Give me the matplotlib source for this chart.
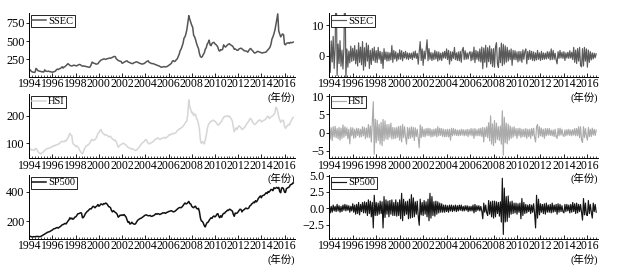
import numpy as np
import matplotlib.pyplot as plt
from matplotlib.ticker import MultipleLocator, FixedLocator

plt.rcParams["font.family"] = ["Liberation Serif", "Noto Sans CJK SC"]

# ------------------------------
# Index levels, one reading per month from 1994.0
ssec_price = [
    118, 105, 88, 80, 76, 72, 78, 128, 112, 96, 92, 88,
    86, 80, 82, 78, 108, 90, 88, 86, 90, 84, 82, 78,
    76, 80, 84, 90, 108, 118, 112, 122, 126, 136, 150, 132,
    148, 152, 165, 178, 192, 182, 168, 164, 160, 166, 172, 168,
    166, 162, 170, 178, 182, 176, 166, 158, 162, 158, 156, 152,
    150, 146, 142, 150, 180, 214, 204, 198, 194, 186, 188, 192,
    212, 226, 240, 246, 252, 258, 256, 250, 258, 262, 264, 270,
    268, 272, 280, 286, 292, 288, 258, 248, 236, 230, 226, 222,
    198, 204, 212, 220, 226, 232, 218, 212, 206, 200, 196, 192,
    204, 208, 214, 218, 212, 206, 198, 194, 190, 186, 192, 196,
    208, 218, 226, 232, 210, 204, 198, 192, 194, 188, 182, 178,
    172, 166, 162, 156, 146, 144, 148, 152, 150, 148, 152, 156,
    168, 176, 186, 198, 226, 234, 222, 228, 246, 258, 290, 320,
    370, 390, 430, 470, 540, 560, 600, 660, 760, 850, 800, 760,
    720, 690, 580, 560, 520, 470, 430, 400, 330, 290, 280, 290,
    320, 340, 390, 410, 460, 480, 515, 450, 440, 470, 480, 485,
    465, 455, 440, 420, 375, 365, 385, 380, 390, 450, 430, 420,
    435, 450, 460, 465, 450, 445, 435, 420, 390, 395, 385, 375,
    378, 395, 400, 405, 395, 385, 372, 368, 366, 362, 350, 372,
    392, 400, 382, 370, 352, 338, 342, 350, 362, 358, 352, 348,
    342, 338, 344, 346, 348, 352, 370, 384, 400, 420, 460, 530,
    560, 600, 650, 720, 800, 875, 640, 600, 560, 580, 600, 590,
    460, 450, 470, 475, 480, 470, 485, 478, 482, 488,
]
hsi_price = [
    84, 80, 76, 78, 76, 74, 80, 82, 76, 70, 66, 64,
    62, 66, 68, 70, 76, 78, 80, 82, 82, 84, 84, 88,
    88, 92, 90, 94, 94, 96, 96, 100, 102, 106, 108, 106,
    106, 110, 108, 114, 120, 128, 136, 130, 128, 100, 96, 94,
    88, 92, 88, 84, 76, 70, 66, 62, 70, 80, 86, 92,
    92, 96, 98, 104, 112, 114, 110, 112, 114, 118, 126, 136,
    138, 146, 150, 142, 136, 134, 130, 132, 130, 128, 124, 124,
    126, 120, 116, 114, 110, 112, 104, 96, 86, 90, 94, 96,
    98, 100, 100, 96, 94, 90, 86, 84, 82, 82, 80, 80,
    78, 76, 74, 76, 80, 84, 88, 94, 98, 102, 104, 108,
    112, 114, 106, 100, 98, 100, 102, 104, 106, 110, 114, 116,
    118, 120, 116, 114, 116, 118, 120, 120, 122, 118, 122, 124,
    128, 132, 130, 134, 136, 134, 136, 138, 140, 146, 148, 152,
    152, 156, 158, 162, 166, 172, 178, 180, 210, 257, 232, 222,
    210, 212, 200, 206, 204, 190, 184, 170, 150, 110, 100, 106,
    104, 98, 112, 128, 150, 165, 172, 176, 180, 180, 184, 182,
    180, 176, 172, 166, 166, 172, 176, 180, 188, 194, 198, 196,
    198, 200, 196, 198, 192, 188, 180, 162, 142, 150, 156, 150,
    158, 164, 160, 156, 150, 152, 156, 158, 166, 170, 176, 180,
    188, 190, 184, 176, 172, 168, 170, 174, 178, 182, 184, 184,
    178, 180, 182, 184, 186, 190, 196, 198, 190, 192, 196, 198,
    200, 204, 210, 230, 226, 214, 196, 186, 176, 180, 184, 182,
    162, 154, 160, 164, 168, 166, 176, 182, 190, 194,
]
sp500_price = [
    98, 96, 94, 92, 93, 94, 93, 95, 96, 95, 94, 94,
    96, 100, 104, 108, 112, 116, 120, 124, 126, 128, 132, 136,
    140, 146, 148, 150, 154, 156, 152, 158, 162, 168, 174, 176,
    180, 184, 180, 190, 200, 208, 222, 214, 220, 212, 216, 226,
    228, 236, 248, 250, 252, 256, 254, 222, 224, 236, 250, 258,
    266, 270, 278, 284, 282, 292, 300, 296, 290, 298, 302, 312,
    300, 306, 316, 314, 310, 318, 316, 322, 318, 310, 298, 296,
    290, 272, 262, 270, 264, 258, 254, 244, 226, 232, 240, 238,
    242, 238, 244, 236, 228, 210, 192, 196, 180, 182, 192, 184,
    180, 178, 182, 194, 204, 210, 214, 218, 220, 226, 230, 236,
    240, 242, 238, 236, 236, 238, 232, 232, 236, 238, 244, 250,
    246, 250, 248, 244, 248, 250, 256, 254, 256, 252, 258, 260,
    264, 266, 268, 270, 266, 262, 264, 268, 274, 280, 286, 290,
    292, 290, 296, 304, 314, 322, 316, 318, 326, 333, 318, 316,
    300, 294, 290, 298, 300, 286, 282, 286, 262, 220, 200, 198,
    186, 168, 160, 178, 190, 192, 204, 214, 222, 218, 230, 234,
    228, 234, 246, 250, 232, 222, 236, 226, 244, 252, 252, 262,
    266, 274, 272, 280, 278, 272, 268, 246, 232, 254, 252, 254,
    262, 272, 280, 278, 262, 272, 276, 282, 288, 284, 284, 288,
    302, 306, 316, 320, 328, 324, 338, 330, 340, 354, 362, 370,
    358, 372, 374, 376, 384, 392, 386, 400, 396, 404, 414, 412,
    406, 426, 420, 424, 428, 422, 428, 400, 392, 424, 426, 418,
    396, 394, 420, 424, 428, 432, 446, 448, 452, 458,
]

# ------------------------------
# Returns, one reading per month from 1994.0
ssec_ret = [
    3.2, -5.5, 4.8, -2.1, 6.3, -4.2, 2.5, 30.0, -6.5, 3.8, -2.6, 4.9,
    -3.5, 1.8, -4.4, 2.9, 30.0, -7.5, 2.2, -3.8, 1.5, -2.4, 3.1, -1.9,
    2.4, -1.6, 3.3, -2.7, 1.9, -3.4, 4.2, -2.2, 2.8, -3.0, 4.6, -4.8,
    2.6, -3.5, 4.1, -1.8, 3.4, -4.2, 1.7, -2.9, 2.3, -1.6, 2.8, -2.2,
    1.6, -2.3, 2.7, -1.2, 1.4, -2.6, 1.1, -4.2, 2.3, -1.3, 1.2, -1.8,
    1.1, -1.7, 0.9, -1.4, 3.3, -2.2, 1.7, -1.1, 1.3, -1.8, 0.8, -1.2,
    1.9, -1.2, 1.6, -1.7, 1.1, -0.8, 1.4, -1.1, 0.9, -1.3, 0.8, -0.9,
    0.8, -1.3, 1.2, -0.7, 1.5, -0.9, 0.7, -2.8, 1.3, 4.6, -1.6, 2.2,
    -3.2, 1.5, -1.1, 1.8, 5.2, -1.7, 2.3, -1.2, 1.0, -1.6, 0.9, -1.3,
    1.7, -1.1, 1.3, -1.8, 1.2, -1.4, 0.8, -1.6, 1.1, -0.8, 1.4, -0.9,
    2.2, -1.3, 1.7, -2.8, 1.3, -1.7, 1.2, -0.9, 2.7, -1.3, 0.9, -1.6,
    1.2, -1.7, 1.4, -2.2, 1.8, 2.7, -1.3, 1.6, -1.2, 0.9, -1.1, 0.8,
    1.3, -1.7, 1.2, -1.4, 2.8, -2.3, 1.7, -1.2, 1.4, -1.8, 2.2, -2.1,
    2.8, -4.3, 2.5, -2.2, 3.4, -3.8, 2.6, -2.0, 3.2, -2.7, 2.2, -3.6,
    2.3, -3.8, 2.9, 4.2, -2.7, -3.9, 2.6, -2.3, 4.1, -3.3, 3.7, -2.8,
    3.2, -2.2, 2.7, -1.8, 1.8, -1.3, 2.2, -3.2, 1.7, -1.3, 1.6, -1.4,
    1.2, -2.1, 1.4, -1.7, 1.3, -2.2, 1.9, -1.2, 1.3, 2.2, -2.7, 1.4,
    -1.3, 1.7, -1.2, 1.4, -1.6, 1.2, -1.7, 0.9, -1.4, 1.7, -1.2, 0.9,
    -1.6, 1.4, -1.3, 0.9, -1.2, 0.8, -1.1, 1.3, -0.9, 1.2, -1.4, 2.2,
    -1.3, 1.7, -1.2, 0.8, -1.4, -2.7, 1.3, -0.9, 1.7, -0.8, 1.1, -0.9,
    1.3, -1.6, 0.9, -0.8, 1.1, -0.9, 1.6, -0.8, 1.1, -1.3, 2.7, -2.2,
    1.8, -2.6, 2.3, -1.8, 2.7, -3.2, -3.7, 2.3, -3.4, 2.7, -1.8, 2.2,
    -3.8, 1.8, -2.2, 1.3, -1.4, 0.9, -1.1, 0.8, -0.7, 0.6,
]
hsi_ret = [
    2.6, -1.8, 1.3, -2.2, 1.6, -1.2, 1.7, -1.4, 1.1, -1.7, 1.4, -2.1,
    1.2, -1.6, 2.1, -1.3, 1.6, -0.9, 1.3, -1.7, 0.9, -3.1, 1.4, -0.9,
    1.3, -1.6, 0.9, -1.4, 1.2, -0.8, 1.1, -1.3, 0.9, -1.2, 1.6, -0.9,
    1.4, -1.7, 1.2, -1.3, 2.2, -1.4, 1.8, -2.6, 3.1, 8.5, -6.0, 3.7,
    -2.8, 3.4, -2.2, 2.3, -3.2, 2.8, -3.6, 3.6, -2.3, 3.2, -1.8, 2.2,
    -1.9, 2.2, -1.3, 2.6, -1.8, 1.4, -1.7, 1.3, -1.6, 1.4, -1.3, 1.7,
    -2.1, 1.8, -2.6, 2.2, -1.4, 1.6, -1.3, -3.2, 1.4, -1.7, 1.3, -1.6,
    1.6, -1.3, 1.4, -2.2, 1.3, -1.1, 0.9, -1.6, -4.2, 2.1, -1.4, 1.6,
    -1.1, 0.9, -1.2, 1.1, -0.8, 1.2, -0.9, 1.1, -1.2, 0.8, -1.1, 0.9,
    -0.9, 1.1, -1.2, 1.6, -0.9, 1.2, -0.8, 1.1, -1.1, 0.9, -1.2, 0.8,
    -1.1, 0.9, -1.2, 0.9, -2.1, 1.2, -0.9, 1.1, -0.7, 0.9, -0.8, 0.7,
    -0.9, 0.7, -0.8, 0.9, -0.7, 0.8, -0.9, 0.7, -0.8, 0.9, -1.1, 0.8,
    -0.7, 1.1, -0.9, 1.0, -1.6, 1.1, -0.9, 0.8, -0.9, 1.1, -0.9, 1.2,
    -1.1, 1.4, -2.6, 1.3, -1.1, 1.6, -1.4, 2.7, -2.3, 4.6, -3.2, 2.4,
    -3.6, 3.3, -2.8, 2.6, -1.9, 1.6, -2.2, 1.8, -3.2, 6.0, -6.2, 4.2,
    -2.8, 2.6, -3.1, 2.3, -2.1, 1.8, -1.6, 1.4, -1.3, 1.6, -0.9, 1.1,
    -1.6, 1.1, -0.9, 1.2, -1.4, 0.9, -1.1, 0.9, -1.2, 1.1, -1.6, 0.9,
    -1.1, 0.9, -1.6, 1.1, -0.9, 1.2, -1.4, -2.6, 1.6, 2.2, -1.4, 1.6,
    -0.9, 1.2, -1.1, 0.9, -1.6, 1.1, -0.9, 1.1, -0.7, 1.1, -0.8, 0.7,
    -0.9, 0.7, -1.1, 0.9, -1.1, -1.6, 1.1, -0.9, 1.2, -0.7, 0.9, -0.7,
    -1.1, 0.7, -0.9, 0.8, -0.7, 0.9, -0.8, 0.7, -0.9, 0.8, -0.7, 1.1,
    -0.9, 1.1, -0.9, 1.6, -1.4, 1.6, -2.1, -2.7, 1.6, -1.4, 1.1, -0.9,
    -2.1, 1.4, -1.1, 0.9, -1.1, 1.2, -0.7, 0.9, -0.8, 0.7,
]
sp500_ret = [
    0.5, -0.7, 0.3, -0.6, 0.5, -0.4, 0.3, -0.5, 0.6, -0.4, 0.4, -0.6,
    0.3, -0.5, 0.5, -0.3, 0.6, -0.4, 0.5, -0.3, 0.4, -0.6, 0.3, -0.4,
    0.7, -0.6, 0.5, -0.9, 0.6, -0.8, 0.9, -1.0, 0.6, -0.5, 0.9, -0.7,
    1.0, -0.7, 0.9, -1.1, 1.3, -0.8, 1.1, -1.3, 0.9, -3.0, 2.0, -1.1,
    0.9, -1.1, 0.8, -0.9, 1.1, -0.8, 1.0, -3.0, 1.8, -1.4, 1.3, -0.9,
    1.1, -1.3, 1.2, -0.9, 1.3, -1.1, 0.9, -1.1, 1.3, -1.2, 0.9, -1.1,
    1.3, -1.6, 2.3, -1.9, 1.4, -1.1, 1.0, -0.9, 1.1, -1.6, 1.4, -1.5,
    2.1, -1.4, 1.6, -1.3, 1.0, -0.9, 1.1, -1.2, -2.6, 1.4, -1.0, 0.9,
    -1.1, 1.2, -0.9, 1.0, -1.3, 1.4, -1.9, 2.3, -1.5, 1.8, -1.1, 1.0,
    -1.2, 1.1, -0.9, 1.0, -0.7, 0.8, -0.6, 0.7, -0.6, 0.5, -0.6, 0.5,
    -0.5, 0.4, -0.6, 0.5, -0.4, 0.5, -0.5, 0.4, -0.4, 0.5, -0.5, 0.4,
    -0.4, 0.5, -0.3, 0.5, -0.4, 0.3, -0.4, 0.4, -0.3, 0.4, -0.5, 0.3,
    -0.4, 0.3, -0.4, 0.5, -0.7, 0.6, -0.5, 0.4, -0.3, 0.4, -0.4, 0.3,
    -0.4, -1.6, 0.8, -0.6, 0.5, -0.7, -1.1, 1.2, -0.9, 1.0, -1.3, 1.1,
    -1.5, 1.1, -1.3, 1.0, -0.8, 0.9, -1.2, 1.0, -2.1, 4.6, -4.0, 3.1,
    -2.1, 1.8, -2.0, 1.9, -1.4, 1.0, -0.9, 1.1, -0.8, 0.8, -0.7, 0.8,
    -0.9, 0.7, -0.6, 0.8, -1.6, 1.5, -1.1, 0.9, -0.8, 0.6, -0.7, 0.5,
    -0.5, 0.6, -0.8, 0.5, -0.6, 0.7, -0.8, -3.0, 2.0, -1.5, 1.4, -1.0,
    0.7, -0.6, 0.6, -0.8, 0.7, -0.9, 0.8, -0.6, 0.5, -0.6, 0.6, -0.7,
    0.8, -0.6, 0.5, -0.5, 0.6, -0.9, 0.7, -0.6, 0.6, -0.5, 0.4, -0.5,
    -0.7, 0.6, -0.5, 0.6, -0.4, 0.5, -0.7, 0.6, -0.6, 0.9, -0.5, 0.7,
    -0.8, 0.8, -0.7, 0.6, -0.5, 0.6, -0.6, -1.8, 1.5, -1.0, 0.8, -1.0,
    -1.1, 1.2, -0.8, 0.6, -0.6, -1.5, 0.8, -0.5, 0.6, -0.6,
]

names = ["SSEC", "HSI", "SP500"]
colors = ["#555555", "#d6d6d6", "#111111"]
ret_colors = ["#5a5a5a", "#ababab", "#151515"]
prices = [ssec_price, hsi_price, sp500_price]
rets = [ssec_ret, hsi_ret, sp500_ret]
price_ylims = [(10, 880), (46, 278), (78, 512)]
ret_ylims = [(-7.0, 13.8), (-7.1, 10.6), (-4.7, 5.1)]
price_yticks = [[250, 500, 750], [100, 200], [200, 400]]
ret_yticks = [[0, 10], [-5, 0, 5, 10], [-2.5, 0.0, 2.5, 5.0]]
ret_yfmt = ["%d", "%d", "%.1f"]
years = list(range(1994, 2017, 2))

fg = plt.figure(figsize=(6.26, 2.73), dpi=100)
rows = [(0.718, 0.2326), (0.420, 0.2355), (0.1245, 0.2344)]
left_x = (0.0468, 0.4244)
right_x = (0.526, 0.4292)


def style(ax):
    ax.set_xlim(1994, 2016.9)
    ax.patch.set_visible(False)
    for s in ["top", "right"]:
        ax.spines[s].set_visible(False)
    for s in ["left", "bottom"]:
        ax.spines[s].set_linewidth(0.7)
    ax.xaxis.set_major_locator(FixedLocator(years))
    ax.xaxis.set_minor_locator(MultipleLocator(0.25))
    ax.tick_params(axis="x", which="major", direction="in", length=3, width=0.6,
                   labelsize=8.5, pad=1)
    ax.tick_params(axis="x", which="minor", direction="in", length=1.5, width=0.5)
    ax.tick_params(axis="y", direction="out", length=2.5, width=0.6,
                   labelsize=8.8, pad=1)
    leg = ax.legend(loc="upper left", fontsize=7.5, handlelength=1.3,
                    handletextpad=0.2, borderpad=0.15, borderaxespad=0.15,
                    fancybox=False, framealpha=1)
    leg.get_frame().set_edgecolor("k")
    leg.get_frame().set_linewidth(0.6)
    # year unit under the right end of the axis, drawn at figure level
    x1 = ax.get_position().x1
    y0 = ax.get_position().y0
    fg.text(x1, y0 - 0.052, "(年份)", ha="right", va="top", fontsize=7.5,
            zorder=10)


for i in range(3):
    b, h = rows[i]

    # level
    ax = fg.add_axes([left_x[0], b, left_x[1], h])
    t = 1994 + np.arange(len(prices[i])) / 12
    ax.plot(t, prices[i], c=colors[i], lw=1.1, label=names[i])
    ax.set_ylim(*price_ylims[i])
    ax.set_yticks(price_yticks[i])
    style(ax)

    # returns
    ax = fg.add_axes([right_x[0], b, right_x[1], h])
    t = 1994 + np.arange(len(rets[i])) / 12
    ax.plot(t, rets[i], c=ret_colors[i], lw=0.85, label=names[i])
    ax.set_ylim(*ret_ylims[i])
    ax.set_yticks(ret_yticks[i])
    ax.set_yticklabels([(ret_yfmt[i] % v).replace("-", "\u2212") for v in ret_yticks[i]])
    style(ax)

fg.savefig("out.png", dpi=100)
